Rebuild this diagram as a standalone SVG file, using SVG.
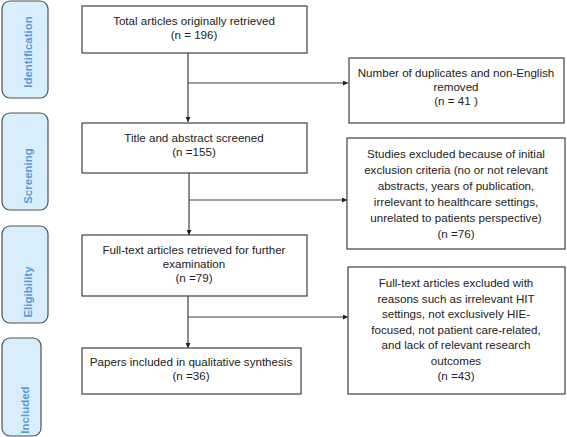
<svg xmlns="http://www.w3.org/2000/svg" width="567" height="437" viewBox="0 0 567 437">
<style>
.box{fill:#fff;stroke:#404040;stroke-width:1.2}
.side{fill:#d9eefc;stroke:#505050;stroke-width:1.2}
.t{font-family:"Liberation Sans",Arial,sans-serif;font-size:11.6px;fill:#222;text-anchor:middle}
.s{font-family:"Liberation Sans",Arial,sans-serif;font-size:11.5px;font-weight:bold;fill:#5b9bd5;text-anchor:middle}
.ln{stroke:#404040;stroke-width:1.2;fill:none}
</style>
<defs>
<marker id="ah" viewBox="0 0 10 10" refX="10" refY="5" markerWidth="5" markerHeight="5" orient="auto" markerUnits="userSpaceOnUse">
<path d="M0,0 L10,5 L0,10 z" fill="#202020"/>
</marker>
</defs>
<rect width="567" height="437" fill="#fff"/>
<g id="side-identification"><rect class="side" x="2" y="1" width="46" height="97" rx="8"/><text class="s" transform="translate(32,52) rotate(-90)">Identification</text></g>
<g id="side-screening"><rect class="side" x="2" y="113" width="46" height="97" rx="8"/><text class="s" transform="translate(32,176) rotate(-90)">Screening</text></g>
<g id="side-eligibility"><rect class="side" x="2" y="226" width="46" height="97" rx="8"/><text class="s" transform="translate(32,292) rotate(-90)">Eligibility</text></g>
<g id="side-included"><rect class="side" x="2" y="338" width="39" height="98" rx="8"/><text class="s" transform="translate(29,410) rotate(-90)">Included</text></g>
<g id="connectors">
<path class="ln" d="M188,53 V122" marker-end="url(#ah)"/>
<path class="ln" d="M188,83 H348" marker-end="url(#ah)"/>
<path class="ln" d="M189,173 V235" marker-end="url(#ah)"/>
<path class="ln" d="M189,200 H347" marker-end="url(#ah)"/>
<path class="ln" d="M188,296 V348" marker-end="url(#ah)"/>
<path class="ln" d="M188,317 H348" marker-end="url(#ah)"/>
</g>
<g id="n-total"><rect class="box" x="82" y="6" width="225" height="47"/><text class="t" x="194" y="25">Total articles originally retrieved</text><text class="t" x="194" y="39">(n = 196)</text></g>
<g id="n-title"><rect class="box" x="82" y="123" width="225" height="50"/><text class="t" x="194" y="142">Title and abstract screened</text><text class="t" x="194" y="156">(n =155)</text></g>
<g id="n-fulltext"><rect class="box" x="82" y="235" width="225" height="61"/><text class="t" x="194" y="254">Full-text articles retrieved for further</text><text class="t" x="194" y="268">examination</text><text class="t" x="194" y="282">(n =79)</text></g>
<g id="n-papers"><rect class="box" x="82" y="348" width="219" height="46"/><text class="t" x="191" y="366">Papers included in qualitative synthesis</text><text class="t" x="191" y="380">(n =36)</text></g>
<g id="n-duplicates"><rect class="box" x="349" y="58" width="215" height="65"/><text class="t" x="456" y="77">Number of duplicates and non-English</text><text class="t" x="456" y="91">removed</text><text class="t" x="456" y="105">(n = 41  )</text></g>
<g id="n-studies"><rect class="box" x="347" y="138" width="218" height="111"/><text class="t" x="456" y="158">Studies excluded because of initial</text><text class="t" x="456" y="174">exclusion criteria (no or not relevant</text><text class="t" x="456" y="190">abstracts, years of publication,</text><text class="t" x="456" y="206">irrelevant to healthcare settings,</text><text class="t" x="456" y="222">unrelated to patients perspective)</text><text class="t" x="456" y="238">(n =76)</text></g>
<g id="n-fulltext-excluded"><rect class="box" x="348" y="267" width="217" height="127"/><text class="t" x="456" y="287">Full-text articles excluded with</text><text class="t" x="456" y="303">reasons such as irrelevant HIT</text><text class="t" x="456" y="318">settings, not exclusively HIE-</text><text class="t" x="456" y="334">focused, not patient care-related,</text><text class="t" x="456" y="349">and lack of relevant research</text><text class="t" x="456" y="365">outcomes</text><text class="t" x="456" y="380">(n =43)</text></g>
</svg>
